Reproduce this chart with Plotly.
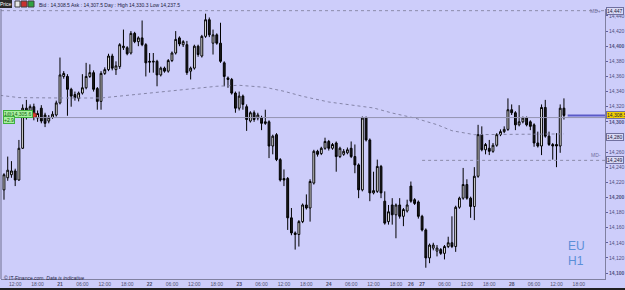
import plotly.graph_objects as go
import pandas as pd

# ---------------- data ----------------
times = list(pd.date_range("2021-09-20 09:00", "2021-09-24 21:00", freq="h")) + \
        list(pd.date_range("2021-09-26 21:00", "2021-09-28 14:00", freq="h"))

opens = [14210, 14226, 14230, 14235, 14223, 14265, 14318, 14313, 14320, 14305,
         14318, 14309, 14301, 14306, 14309, 14325, 14360, 14360, 14343, 14336,
         14331, 14338, 14345, 14360, 14365, 14344, 14327, 14364, 14369, 14387,
         14369, 14373, 14398, 14398, 14391, 14417, 14406, 14411, 14402, 14380,
         14379, 14380, 14362, 14371, 14367, 14381, 14391, 14411, 14402, 14402,
         14367, 14371, 14400, 14387, 14413, 14435, 14404, 14415, 14404, 14378,
         14358, 14356, 14338, 14318, 14334, 14320, 14301, 14312, 14305, 14305,
         14300, 14300, 14268, 14283, 14250, 14225, 14225, 14173, 14153, 14151,
         14168, 14190, 14186, 14219, 14261, 14258, 14265, 14274, 14265, 14272,
         14254, 14257, 14259, 14265, 14254, 14243, 14210, 14305, 14276, 14206,
         14208, 14241, 14195, 14168, 14190, 14177, 14190, 14175, 14182, 14215,
         14197, 14194, 14175, 14157, 14120, 14133, 14129, 14131, 14126, 14135,
         14140, 14135, 14187, 14199, 14217, 14199, 14188, 14228, 14283, 14263,
         14265, 14261, 14269, 14283, 14287, 14290, 14316, 14312, 14296, 14300,
         14305, 14300, 14296, 14272, 14268, 14319, 14281, 14270, 14270, 14268,
         14318]
highs = [14232, 14254, 14248, 14238, 14276, 14323, 14329, 14323, 14324, 14315,
         14322, 14312, 14309, 14314, 14328, 14385, 14367, 14363, 14345, 14340,
         14340, 14363, 14378, 14376, 14368, 14346, 14367, 14372, 14390, 14390,
         14380, 14404, 14422, 14400, 14420, 14419, 14413, 14434, 14404, 14391,
         14391, 14382, 14373, 14373, 14383, 14393, 14420, 14413, 14408, 14407,
         14373, 14402, 14402, 14415, 14443, 14438, 14422, 14417, 14431, 14380,
         14360, 14358, 14340, 14340, 14336, 14323, 14314, 14315, 14312, 14308,
         14316, 14302, 14283, 14285, 14252, 14237, 14227, 14186, 14155, 14170,
         14192, 14204, 14224, 14263, 14263, 14267, 14279, 14276, 14272, 14274,
         14267, 14264, 14266, 14274, 14270, 14245, 14307, 14307, 14278, 14234,
         14250, 14243, 14208, 14190, 14199, 14192, 14199, 14186, 14197, 14221,
         14199, 14196, 14177, 14159, 14139, 14140, 14137, 14133, 14137, 14148,
         14175, 14189, 14201, 14239, 14224, 14201, 14240, 14296, 14294, 14272,
         14276, 14272, 14285, 14290, 14294, 14331, 14323, 14314, 14322, 14307,
         14307, 14302, 14298, 14287, 14323, 14329, 14287, 14272, 14285, 14323,
         14331]
lows = [14197, 14222, 14226, 14215, 14222, 14264, 14303, 14305, 14302, 14300,
        14298, 14293, 14298, 14304, 14307, 14323, 14357, 14308, 14320, 14328,
        14327, 14336, 14343, 14358, 14340, 14316, 14316, 14362, 14367, 14368,
        14362, 14370, 14395, 14388, 14389, 14404, 14400, 14400, 14360, 14365,
        14365, 14347, 14360, 14365, 14365, 14379, 14389, 14400, 14399, 14362,
        14356, 14369, 14386, 14385, 14411, 14412, 14389, 14402, 14378, 14347,
        14345, 14336, 14312, 14315, 14316, 14288, 14299, 14300, 14302, 14289,
        14296, 14252, 14257, 14248, 14221, 14215, 14157, 14150, 14131, 14135,
        14166, 14184, 14168, 14217, 14254, 14256, 14263, 14262, 14263, 14234,
        14252, 14255, 14257, 14252, 14232, 14199, 14208, 14274, 14195, 14204,
        14206, 14199, 14164, 14164, 14164, 14146, 14172, 14162, 14180, 14193,
        14190, 14172, 14155, 14107, 14113, 14130, 14122, 14124, 14118, 14133,
        14133, 14128, 14185, 14197, 14197, 14173, 14170, 14226, 14261, 14257,
        14256, 14259, 14267, 14281, 14285, 14288, 14309, 14289, 14294, 14298,
        14294, 14289, 14267, 14266, 14256, 14279, 14268, 14250, 14240, 14259,
        14303]
closes = [14230, 14236, 14235, 14223, 14265, 14318, 14310, 14320, 14306, 14311,
          14301, 14298, 14306, 14310, 14325, 14362, 14364, 14343, 14334, 14332,
          14338, 14345, 14360, 14365, 14343, 14327, 14364, 14369, 14387, 14371,
          14374, 14402, 14400, 14390, 14417, 14406, 14411, 14402, 14378, 14379,
          14380, 14362, 14371, 14367, 14381, 14391, 14409, 14403, 14406, 14365,
          14371, 14400, 14389, 14413, 14435, 14415, 14415, 14404, 14380, 14360,
          14356, 14338, 14318, 14334, 14323, 14303, 14312, 14303, 14309, 14298,
          14298, 14268, 14281, 14250, 14223, 14223, 14173, 14153, 14151, 14168,
          14190, 14186, 14221, 14261, 14257, 14265, 14274, 14265, 14270, 14254,
          14265, 14261, 14263, 14254, 14243, 14210, 14305, 14276, 14206, 14209,
          14241, 14206, 14166, 14181, 14177, 14190, 14175, 14184, 14190, 14195,
          14192, 14175, 14157, 14120, 14137, 14137, 14133, 14126, 14135, 14140,
          14135, 14187, 14199, 14217, 14199, 14188, 14228, 14283, 14263, 14270,
          14261, 14269, 14283, 14287, 14290, 14316, 14312, 14296, 14300, 14305,
          14296, 14294, 14272, 14268, 14319, 14281, 14270, 14268, 14268, 14318,
          14308.5]

# moving average (read points)
ma_idx = [-1, 4, 15, 26, 39, 48, 57, 63, 70, 75, 80, 87, 95, 99, 104, 110, 116, 120, 126, 138, 150]
ma_val = [14335, 14332, 14331.5, 14331.5, 14338, 14342.5, 14347, 14348.3, 14345.6, 14340.4, 14333.7,
          14326.2, 14320.5, 14318.3, 14311.6, 14305, 14296.2, 14288.2, 14283, 14283.5, 14284]

tick_pos = [3, 9, 15, 21, 27, 33, 39, 45, 51, 57, 63, 69, 75, 81, 87, 93, 99, 105,
            109, 112, 118, 124, 130, 136, 142, 148, 154]
tick_text = ["12:00", "18:00", "21", "06:00", "12:00", "18:00", "22", "06:00", "12:00", "18:00",
             "23", "06:00", "12:00", "18:00", "24", "06:00", "12:00", "18:00",
             "26", "27", "06:00", "12:00", "18:00", "28", "06:00", "12:00", "18:00"]
y_ticks = list(range(14100, 14441, 20))

bid, ask, day_high, day_low = 14308.5, 14307.5, 14330.3, 14237.5
trade_price, trade_pl = 14305.6, 2.9
md_plus, md_minus = 14447, 14249
ma_last = 14280

# ---------------- figure ----------------
W, H = 625, 290
L, R, T, B = 1, 605, 9, 279
BG = "#CDCDFA"
FONT = "Liberation Sans"

def xp(px):
    return (px - L) / (R - L)

def yp(py):
    return (B - py) / (B - T)

xs = list(range(len(times)))
fig = go.Figure()
fig.add_trace(go.Candlestick(
    x=xs, open=opens, high=highs, low=lows, close=closes,
    increasing=dict(line=dict(color="#000000", width=1), fillcolor="#FFFFFF"),
    decreasing=dict(line=dict(color="#000000", width=1), fillcolor="#1C1C1C"),
    whiskerwidth=0, hoverinfo="skip", showlegend=False))

fig.add_trace(go.Scatter(x=ma_idx, y=ma_val, mode="lines",
                         line=dict(color="#8585A8", width=1, dash="dot"),
                         hoverinfo="skip", showlegend=False))

fig.add_trace(go.Scatter(x=[8], y=[trade_price + 3], mode="markers",
                         marker=dict(color="#D84030", size=5, line=dict(color="#802020", width=1)),
                         hoverinfo="skip", showlegend=False))

shapes = []
shapes.append(dict(type="line", xref="paper", yref="y", x0=0, x1=1, y0=md_plus, y1=md_plus,
                   line=dict(color="#8C8CAA", width=1, dash="dot")))
shapes.append(dict(type="line", xref="x", yref="y", x0=112, x1=161.0, y0=md_minus, y1=md_minus,
                   line=dict(color="#8C8CAA", width=1, dash="dot")))
shapes.append(dict(type="line", xref="x", yref="y", x0=8, x1=161.0, y0=trade_price, y1=trade_price,
                   line=dict(color="#9494B0", width=1)))
shapes.append(dict(type="line", xref="x", yref="y", x0=151, x1=161.0, y0=bid, y1=bid,
                   line=dict(color="#5A5AC8", width=2)))
shapes.append(dict(type="line", xref="paper", yref="paper", x0=0, x1=0, y0=0, y1=1,
                   line=dict(color="#707090", width=1)))
shapes.append(dict(type="rect", xref="paper", yref="paper", x0=xp(0), x1=xp(12), y0=yp(8), y1=yp(0),
                   fillcolor="#2A2A2A", line=dict(width=0)))
shapes.append(dict(type="rect", xref="paper", yref="paper", x0=xp(15), x1=xp(20), y0=yp(7), y1=yp(1),
                   fillcolor="#E8E8E8", line=dict(color="#404040", width=1)))
shapes.append(dict(type="rect", xref="paper", yref="paper", x0=xp(21), x1=xp(27), y0=yp(7), y1=yp(1),
                   fillcolor="#C83030", line=dict(color="#404040", width=1)))
shapes.append(dict(type="rect", xref="paper", yref="paper", x0=xp(28), x1=xp(34), y0=yp(7), y1=yp(1),
                   fillcolor="#30A040", line=dict(color="#404040", width=1)))
shapes.append(dict(type="rect", xref="paper", yref="paper", x0=xp(0), x1=xp(625), y0=yp(290), y1=yp(288),
                   fillcolor="#202020", line=dict(width=0)))

ann = []
ann.append(dict(xref="paper", yref="paper", x=xp(6), y=yp(4), text="Price", showarrow=False,
                font=dict(family=FONT, size=5, color="#FFFFFF"), xanchor="center", yanchor="middle"))
ann.append(dict(xref="paper", yref="paper", x=xp(37), y=yp(4.5),
                text=f"Bid : {bid:,.1f} Ask : {ask:,.1f} Day : High {day_high:,.1f} Low {day_low:,.1f}",
                showarrow=False, font=dict(family=FONT, size=5, color="#202040"),
                xanchor="left", yanchor="middle"))
ann.append(dict(xref="paper", yref="paper", x=xp(3), y=yp(113.7), text=f"1@{trade_price:,.1f}",
                showarrow=False, font=dict(family=FONT, size=5, color="#106010"),
                bgcolor="#A8F0A0", bordercolor="#40B040", borderwidth=1, borderpad=0,
                xanchor="left", yanchor="middle"))
ann.append(dict(xref="paper", yref="paper", x=xp(3), y=yp(120), text=f"+{trade_pl}",
                showarrow=False, font=dict(family=FONT, size=5, color="#106010"),
                bgcolor="#A8F0A0", bordercolor="#40B040", borderwidth=1, borderpad=0,
                xanchor="left", yanchor="middle"))
ann.append(dict(xref="paper", yref="y", x=xp(603), y=md_plus, text="MD+", showarrow=False,
                font=dict(family=FONT, size=5, color="#7070A0"), xanchor="right", yanchor="middle"))
ann.append(dict(xref="paper", yref="y", x=xp(603), y=md_minus, text="MD-", showarrow=False,
                font=dict(family=FONT, size=5, color="#7070A0"), xanchor="right", yanchor="bottom"))
for val, txt, bg in [(md_plus, f"{md_plus:,}", "#DADAF5"), (md_minus, f"{md_minus:,}", "#DADAF5"),
                     (ma_last, f"{ma_last:,}", "#DADAF5"), (bid, f"{bid:,.1f}", "#F2D000")]:
    ann.append(dict(xref="paper", yref="y", x=1.0, y=val, text=txt, showarrow=False,
                    font=dict(family=FONT, size=5, color="#202040"), bgcolor=bg,
                    bordercolor="#7070A0", borderwidth=1, borderpad=0,
                    xanchor="left", yanchor="middle", xshift=1))
# watermark
ann.append(dict(xref="paper", yref="paper", x=xp(566), y=yp(246), text="EU", showarrow=False,
                font=dict(family=FONT, size=12, color="#5B8FD8"), xanchor="left", yanchor="middle"))
ann.append(dict(xref="paper", yref="paper", x=xp(566), y=yp(261), text="H1", showarrow=False,
                font=dict(family=FONT, size=12, color="#5B8FD8"), xanchor="left", yanchor="middle"))
ann.append(dict(xref="paper", yref="paper", x=xp(2), y=yp(277.5), text="© IT-Finance.com. <i>Data is indicative</i>",
                showarrow=False, font=dict(family=FONT, size=5, color="#202040"),
                xanchor="left", yanchor="middle"))

covered = {ma_last}
y_text = ["" if v in covered else (f"<b>{v:,}</b>" if v % 100 == 0 else f"{v:,}") for v in y_ticks]
x_text = [f"<b>{t}</b>" if ":" not in t else t for t in tick_text]

fig.update_layout(
    width=W, height=H,
    margin=dict(l=L, r=W - R, t=T, b=H - B),
    paper_bgcolor=BG, plot_bgcolor=BG,
    font=dict(family=FONT),
    showlegend=False,
    shapes=shapes, annotations=ann,
    xaxis=dict(range=[-0.8, 161.0], rangeslider=dict(visible=False), showgrid=False, zeroline=False,
               tickmode="array", tickvals=tick_pos, ticktext=x_text,
               tickfont=dict(size=5, color="#505070"), ticks="", showline=True,
               linecolor="#8080A0", linewidth=1),
    yaxis=dict(range=[14092.1, 14449.2], side="right", showgrid=False, zeroline=False,
               tickmode="array", tickvals=y_ticks, ticktext=y_text,
               tickfont=dict(size=5, color="#505080"), ticks="outside", ticklen=2,
               tickcolor="#6060A0", showline=True, linecolor="#8080A0", linewidth=1),
)

fig.write_html("out.html")
